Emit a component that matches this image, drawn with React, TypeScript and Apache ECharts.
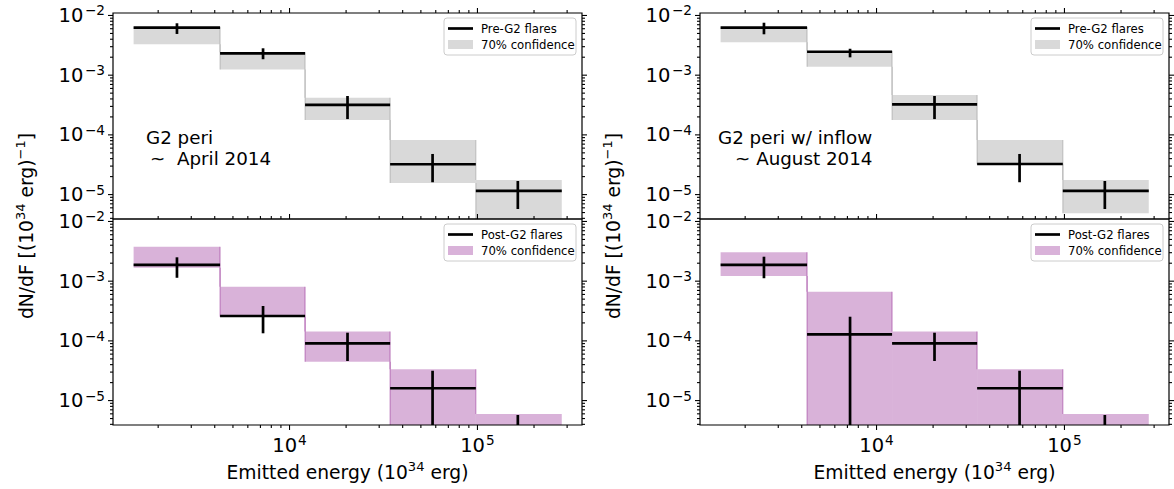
import React, { useEffect, useRef } from "react";
import * as echarts from "echarts";

const FONT = "DejaVu Sans";

const binEdges = [1480, 4270, 12100, 34300, 98000, 281000];
const binCenters = [2518, 7230, 20350, 57700, 164000];

// Pre-G2 flares, left column
const preLeftValue = [6.24e-3, 2.32e-3, 3.17e-4, 3.22e-5, 1.15e-5];
const preLeftErrLow = [4.9e-3, 1.85e-3, 1.84e-4, 1.61e-5, 5.73e-6];
const preLeftErrHigh = [7.4e-3, 2.82e-3, 4.48e-4, 4.79e-5, 1.69e-5];
const preLeftBandLow = [3.29e-3, 1.25e-3, 1.77e-4, 1.56e-5, 2e-6];
const preLeftBandHigh = [6.4e-3, 2.42e-3, 4.2e-4, 8.2e-5, 1.75e-5];

// Pre-G2 flares, right column
const preRightValue = [6.24e-3, 2.47e-3, 3.25e-4, 3.25e-5, 1.15e-5];
const preRightErrLow = [4.84e-3, 1.99e-3, 1.84e-4, 1.61e-5, 5.73e-6];
const preRightErrHigh = [7.56e-3, 2.77e-3, 4.48e-4, 4.79e-5, 1.69e-5];
const preRightBandLow = [3.56e-3, 1.39e-3, 1.77e-4, 3.22e-5, 4.86e-6];
const preRightBandHigh = [6.4e-3, 2.55e-3, 4.66e-4, 8.2e-5, 1.75e-5];

// Post-G2 flares, left column
const postLeftValue = [1.87e-3, 2.61e-4, 9.1e-5, 1.61e-5, 2e-6];
const postLeftErrLow = [1.14e-3, 1.34e-4, 4.6e-5, 1e-6, 1e-6];
const postLeftErrHigh = [2.51e-3, 3.84e-4, 1.37e-4, 3.16e-5, 5.73e-6];
const postLeftBandLow = [1.68e-3, 2.53e-4, 4.48e-5, 1e-6, 1e-6];
const postLeftBandHigh = [3.78e-3, 8.07e-4, 1.43e-4, 3.34e-5, 5.96e-6];

// Post-G2 flares, right column
const postRightValue = [1.87e-3, 1.29e-4, 9.1e-5, 1.61e-5, 2e-6];
const postRightErrLow = [1.12e-3, 1e-6, 4.6e-5, 1e-6, 1e-6];
const postRightErrHigh = [2.57e-3, 2.54e-4, 1.37e-4, 3.16e-5, 5.73e-6];
const postRightBandLow = [1.22e-3, 1e-6, 1e-6, 1e-6, 1e-6];
const postRightBandHigh = [3.05e-3, 6.67e-4, 1.43e-4, 3.34e-5, 5.96e-6];

const xMajorTicks = [1e4, 1e5];
const xMinorTicks = [2e3, 3e3, 4e3, 5e3, 6e3, 7e3, 8e3, 9e3, 2e4, 3e4, 4e4, 5e4, 6e4, 7e4, 8e4, 9e4, 2e5, 3e5];
const yMajorTicks = [1e-5, 1e-4, 1e-3, 1e-2];
const yMinorTicks = [
  4e-6, 5e-6, 6e-6, 7e-6, 8e-6, 9e-6,
  2e-5, 3e-5, 4e-5, 5e-5, 6e-5, 7e-5, 8e-5, 9e-5,
  2e-4, 3e-4, 4e-4, 5e-4, 6e-4, 7e-4, 8e-4, 9e-4,
  2e-3, 3e-3, 4e-3, 5e-3, 6e-3, 7e-3, 8e-3, 9e-3,
];

const X_MIN = 1150;
const X_MAX = 3.6e5;
const Y_MIN = 3.9e-6;
const Y_MAX = 1.1e-2;

const GREY = "rgba(128,128,128,0.3)";
const PURPLE = "rgba(128,0,128,0.3)";

const supRich = (size: number, supPad = 0) => ({
  b: { fontSize: size, fontFamily: FONT, color: "#000", lineHeight: 24 },
  s: {
    fontSize: size * 0.7,
    fontFamily: FONT,
    color: "#000",
    verticalAlign: "top",
    lineHeight: 14,
    padding: [0, 0, 0, supPad],
  },
});

const isDecade = (v: number) => {
  const l = Math.log10(v);
  return Math.abs(l - Math.round(l)) < 1e-6;
};
const decadeLabel = (v: number) => {
  if (!isDecade(v)) return "";
  const e = Math.round(Math.log10(v));
  return `{b|10}{s|${e < 0 ? "\u2212" + Math.abs(e) : e}}`;
};

function clampY(y: number, cs: any) {
  return Math.max(cs.y, Math.min(cs.y + cs.height, y));
}

function bandSeries(idx: number, low: number[], high: number[], color: string) {
  return {
    type: "custom",
    xAxisIndex: idx,
    yAxisIndex: idx,
    clip: false,
    z: 2,
    silent: true,
    data: low.map((l, i) => [
      binEdges[i],
      binEdges[i + 1],
      l,
      high[i],
      i,
      i > 0 ? low[i - 1] : l,
      i > 0 ? high[i - 1] : high[i],
    ]),
    renderItem: (params: any, api: any) => {
      const cs = params.coordSys;
      const p0 = api.coord([api.value(0), api.value(3)]);
      const p1 = api.coord([api.value(1), api.value(2)]);
      const y0 = clampY(p0[1], cs);
      const y1 = clampY(p1[1], cs);
      const children: any[] = [
        { type: "rect", shape: { x: p0[0], y: y0, width: p1[0] - p0[0], height: y1 - y0 }, style: { fill: color } },
      ];
      if (api.value(4) > 0) {
        const x = p0[0];
        const prevLo = clampY(api.coord([api.value(0), api.value(5)])[1], cs);
        const prevHi = clampY(api.coord([api.value(0), api.value(6)])[1], cs);
        const segs = [
          [Math.min(prevHi, y0), Math.max(prevHi, y0)],
          [Math.min(prevLo, y1), Math.max(prevLo, y1)],
        ];
        segs.forEach(([a, b]) => {
          if (b - a > 0.2) {
            children.push({
              type: "line",
              shape: { x1: x, y1: a, x2: x, y2: b },
              style: { stroke: color, lineWidth: 1.5 },
            });
          }
        });
      }
      return { type: "group", children };
    },
  };
}

function stepSeries(idx: number, val: number[], lo: number[], hi: number[]) {
  return {
    type: "custom",
    xAxisIndex: idx,
    yAxisIndex: idx,
    clip: false,
    z: 5,
    silent: true,
    data: val.map((v, i) => [binEdges[i], binEdges[i + 1], binCenters[i], v, lo[i], hi[i]]),
    renderItem: (params: any, api: any) => {
      const cs = params.coordSys;
      const a = api.coord([api.value(0), api.value(3)]);
      const b = api.coord([api.value(1), api.value(3)]);
      const c1 = api.coord([api.value(2), api.value(5)]);
      const c2 = api.coord([api.value(2), api.value(4)]);
      const children: any[] = [];
      if (a[1] >= cs.y && a[1] <= cs.y + cs.height) {
        children.push({
          type: "line",
          shape: { x1: a[0], y1: a[1], x2: b[0], y2: b[1] },
          style: { stroke: "#000", lineWidth: 2.7 },
        });
      }
      const e1 = clampY(c1[1], cs);
      const e2 = clampY(c2[1], cs);
      if (e2 > e1) {
        children.push({
          type: "line",
          shape: { x1: c1[0], y1: e1, x2: c1[0], y2: e2 },
          style: { stroke: "#000", lineWidth: 2.7 },
        });
      }
      return { type: "group", children };
    },
  };
}

function frameSeries(idx: number, isBottom: boolean) {
  const data: number[][] = [];
  xMajorTicks.forEach((v) => data.push([v, 1e-4, 0]));
  xMinorTicks.forEach((v) => data.push([v, 1e-4, 1]));
  yMajorTicks.forEach((v) => data.push([1e4, v, 2]));
  yMinorTicks.forEach((v) => data.push([1e4, v, 3]));
  data.push([1e4, 1e-4, 4]);
  return {
    type: "custom",
    xAxisIndex: idx,
    yAxisIndex: idx,
    clip: false,
    z: 10,
    silent: true,
    data,
    renderItem: (params: any, api: any) => {
      const cs = params.coordSys;
      const kind = api.value(2);
      const st = { stroke: "#000", lineWidth: 1.1 };
      const top = cs.y;
      const bot = cs.y + cs.height;
      const left = cs.x;
      const right = cs.x + cs.width;
      if (kind === 4) {
        return {
          type: "rect",
          shape: { x: left, y: top, width: cs.width, height: cs.height },
          style: { fill: "none", stroke: "#000", lineWidth: 1.2 },
        };
      }
      const p = api.coord([api.value(0), api.value(1)]);
      const children: any[] = [];
      if (kind === 0 || kind === 1) {
        const len = kind === 0 ? 5 : 3;
        const x = p[0];
        if (x < left - 0.5 || x > right + 0.5) return { type: "group", children };
        children.push({ type: "line", shape: { x1: x, y1: top, x2: x, y2: top - len }, style: st });
        if (isBottom) children.push({ type: "line", shape: { x1: x, y1: bot, x2: x, y2: bot + len }, style: st });
      } else {
        const len = kind === 2 ? 5 : 3;
        const y = p[1];
        if (y < top - 0.5 || y > bot + 0.5) return { type: "group", children };
        children.push({ type: "line", shape: { x1: left, y1: y, x2: left - len, y2: y }, style: st });
        children.push({ type: "line", shape: { x1: right, y1: y, x2: right + len, y2: y }, style: st });
      }
      return { type: "group", children };
    },
  };
}

function legend(dx: number, dy: number, label: string, color: string) {
  return [
    {
      type: "rect",
      shape: { x: 444 + dx, y: 18 + dy, width: 132, height: 37, r: 3 },
      style: { fill: "rgba(255,255,255,0.8)", stroke: "#cccccc", lineWidth: 1 },
      z: 20,
    },
    {
      type: "line",
      shape: { x1: 448 + dx, y1: 28.5 + dy, x2: 473 + dx, y2: 28.5 + dy },
      style: { stroke: "#000", lineWidth: 2.7 },
      z: 21,
    },
    {
      type: "rect",
      shape: { x: 448 + dx, y: 40 + dy, width: 25, height: 9 },
      style: { fill: color },
      z: 21,
    },
    {
      type: "text",
      x: 481 + dx,
      y: 28.5 + dy,
      style: { text: label, fontSize: 11.7, fontFamily: FONT, fill: "#000", align: "left", verticalAlign: "middle" },
      z: 21,
    },
    {
      type: "text",
      x: 481 + dx,
      y: 45 + dy,
      style: { text: "70% confidence", fontSize: 11.7, fontFamily: FONT, fill: "#000", align: "left", verticalAlign: "middle" },
      z: 21,
    },
  ];
}

const grids = [
  { left: 113, top: 13, width: 469, height: 206 },
  { left: 113, top: 219, width: 469, height: 206 },
  { left: 700, top: 13, width: 469, height: 206 },
  { left: 700, top: 219, width: 469, height: 206 },
];

export default function App() {
  const ref = useRef<HTMLDivElement>(null);
  useEffect(() => {
    if (!ref.current) return;
    const chart = echarts.init(ref.current, null, { renderer: "svg" });
    const xAxes = grids.map((_, i) => ({
      type: "log",
      logBase: 10,
      gridIndex: i,
      min: X_MIN,
      max: X_MAX,
      axisLine: { show: false },
      axisTick: { show: false },
      splitLine: { show: false },
      minorTick: { show: false },
      axisLabel: {
        show: i === 1 || i === 3,
        margin: 8,
        interval: 0,
        showMinLabel: true,
        showMaxLabel: true,
        formatter: (v: number) => decadeLabel(v),
        rich: supRich(19.5, 1),
      },
    }));
    const yAxes = grids.map((_, i) => ({
      type: "log",
      logBase: 10,
      gridIndex: i,
      min: Y_MIN,
      max: Y_MAX,
      axisLine: { show: false },
      axisTick: { show: false },
      splitLine: { show: false },
      minorTick: { show: false },
      axisLabel: {
        show: true,
        margin: 8,
        interval: 0,
        showMinLabel: true,
        showMaxLabel: true,
        formatter: (v: number) => decadeLabel(v),
        rich: supRich(19.5, 1.5),
      },
    }));

    const textStyle = (text: string, size = 18.3) => ({
      text,
      fontSize: size,
      fontFamily: FONT,
      fill: "#000",
      align: "left",
      verticalAlign: "middle",
    });

    const option: any = {
      animation: false,
      backgroundColor: "#fff",
      grid: grids.map((g) => ({ ...g, show: false, containLabel: false })),
      xAxis: xAxes,
      yAxis: yAxes,
      series: [
        bandSeries(0, preLeftBandLow, preLeftBandHigh, GREY),
        stepSeries(0, preLeftValue, preLeftErrLow, preLeftErrHigh),
        frameSeries(0, false),
        bandSeries(1, postLeftBandLow, postLeftBandHigh, PURPLE),
        stepSeries(1, postLeftValue, postLeftErrLow, postLeftErrHigh),
        frameSeries(1, true),
        bandSeries(2, preRightBandLow, preRightBandHigh, GREY),
        stepSeries(2, preRightValue, preRightErrLow, preRightErrHigh),
        frameSeries(2, false),
        bandSeries(3, postRightBandLow, postRightBandHigh, PURPLE),
        stepSeries(3, postRightValue, postRightErrLow, postRightErrHigh),
        frameSeries(3, true),
      ],
      graphic: [
        ...legend(0, 0, "Pre-G2 flares", GREY),
        ...legend(0, 206, "Post-G2 flares", PURPLE),
        ...legend(587, 0, "Pre-G2 flares", GREY),
        ...legend(587, 206, "Post-G2 flares", PURPLE),
        { type: "text", x: 146, y: 137, style: textStyle("G2 peri"), z: 15 },
        { type: "text", x: 150, y: 158, style: textStyle("~  April 2014"), z: 15 },
        { type: "text", x: 718, y: 137, style: textStyle("G2 peri w/ inflow"), z: 15 },
        { type: "text", x: 735, y: 158, style: textStyle("~ August 2014"), z: 15 },
        {
          type: "text",
          x: 347.5,
          y: 472,
          style: {
            text: "{b|Emitted energy (10}{s|34}{b| erg)}",
            rich: supRich(18.7),
            align: "center",
            verticalAlign: "middle",
          },
        },
        {
          type: "text",
          x: 934.5,
          y: 472,
          style: {
            text: "{b|Emitted energy (10}{s|34}{b| erg)}",
            rich: supRich(18.7),
            align: "center",
            verticalAlign: "middle",
          },
        },
        {
          type: "text",
          x: 26,
          y: 226,
          rotation: Math.PI / 2,
          style: {
            text: "{b|dN/dF [(10}{s|34}{b| erg)}{s|\u22121}{b|]}",
            rich: supRich(18.7),
            align: "center",
            verticalAlign: "middle",
          },
        },
        {
          type: "text",
          x: 613,
          y: 226,
          rotation: Math.PI / 2,
          style: {
            text: "{b|dN/dF [(10}{s|34}{b| erg)}{s|\u22121}{b|]}",
            rich: supRich(18.7),
            align: "center",
            verticalAlign: "middle",
          },
        },
      ],
    };
    chart.setOption(option);
    return () => chart.dispose();
  }, []);
  return (
    <div
      ref={ref}
      style={{ position: "fixed", left: 0, top: 0, width: 1174, height: 489, background: "#fff" }}
    />
  );
}
